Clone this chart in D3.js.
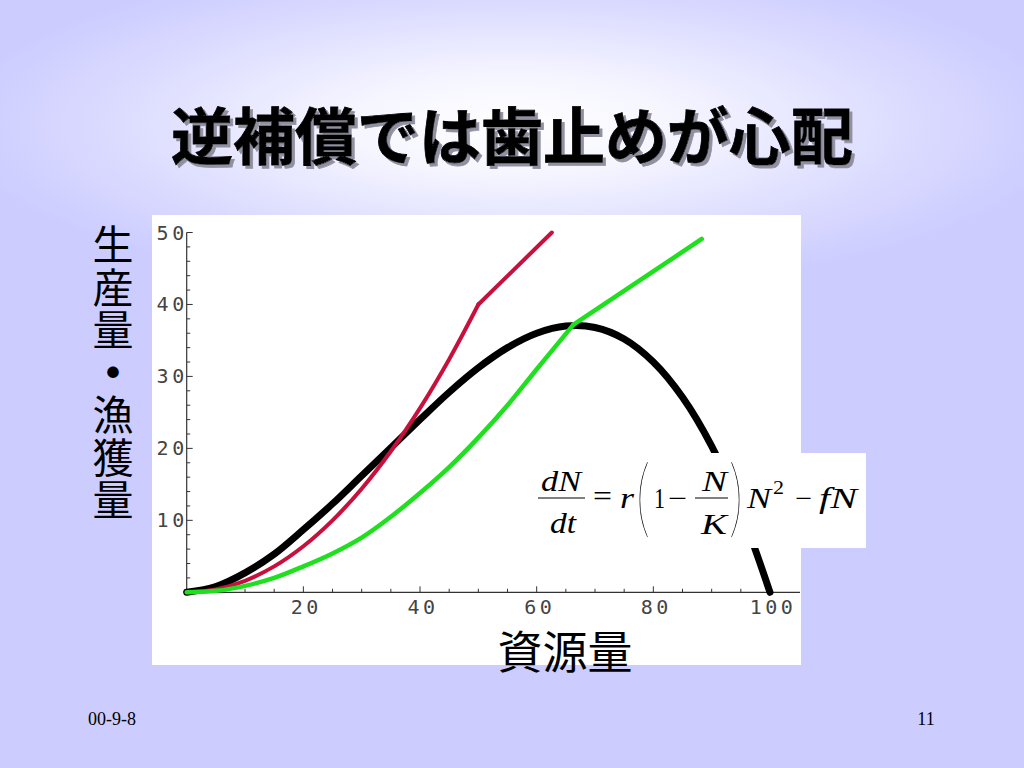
<!DOCTYPE html>
<html>
<head>
<meta charset="utf-8">
<script src="https://cdn.jsdelivr.net/npm/d3@7"></script>
<style>
  html, body { margin: 0; padding: 0; background: #ccccff; }
  svg { display: block; }
</style>
</head>
<body>
<svg id="chart" width="1024" height="768"></svg>
<script>
// ---------- data ----------
const titleText = "逆補償では歯止めが心配";
const yLabelText = "生産量・漁獲量";
const xLabelText = "資源量";
const footerDate = "00-9-8";
const footerPage = "11";

const xTicks = [20, 40, 60, 80, 100];
const xMinorTicks = [5, 10, 15, 25, 30, 35, 45, 50, 55, 65, 70, 75, 85, 90, 95];
const yTicks = [10, 20, 30, 40, 50];
const yMinorTicks = [2, 4, 6, 8, 12, 14, 16, 18, 22, 24, 26, 28, 32, 34, 36, 38, 42, 44, 46, 48];

// black: production curve
const blackN      = [0, 5, 10, 15, 20, 25, 30, 35, 40, 45, 50, 55, 60, 65, 70, 75, 80, 85, 90, 95, 100];
const blackValues = [0, 0.8, 2.7, 5.3, 8.7, 12.3, 16.2, 20.1, 24.0, 27.8, 31.2, 34.0, 36.0, 37.0, 36.8, 35.2, 32.0, 27.1, 20.3, 11.3, 0];

// red: catch curve (curved part then straight part after the knee)
const redN      = [0, 5, 10, 15, 20, 25, 30, 35, 40, 45, 50, 62.6];
const redValues = [0, 0.4, 1.6, 3.6, 6.4, 10.0, 14.4, 19.6, 25.6, 32.4, 40.0, 50.0];
const redKnee = 50;

// green: catch curve (curved part then straight part after the knee)
const greenN      = [0, 5, 10, 15, 20, 25, 30, 35, 40, 45, 50, 55, 60, 66.3, 88.3];
const greenValues = [0, 0.2, 0.9, 2.0, 3.6, 5.4, 7.6, 10.5, 13.8, 17.4, 21.5, 26.0, 31.0, 37.2, 49.1];
const greenKnee = 66.3;

// ---------- drawing ----------
const svg = d3.select("#chart");
const defs = svg.append("defs");

const bg = defs.append("radialGradient")
  .attr("id", "bgGrad")
  .attr("gradientUnits", "userSpaceOnUse")
  .attr("cx", 512).attr("cy", 125).attr("r", 560)
  .attr("gradientTransform", "translate(512,125) scale(1,0.3) translate(-512,-125)");
bg.append("stop").attr("offset", 0).attr("stop-color", "#ffffff");
bg.append("stop").attr("offset", 0.3).attr("stop-color", "#f5f5ff");
bg.append("stop").attr("offset", 0.7).attr("stop-color", "#dcdcff");
bg.append("stop").attr("offset", 1).attr("stop-color", "#ccccff");

const shadow = defs.append("filter").attr("id", "titleShadow")
  .attr("x", "-5%").attr("y", "-20%").attr("width", "110%").attr("height", "140%");
shadow.append("feDropShadow").attr("dx", 3).attr("dy", 3).attr("stdDeviation", 0.6)
  .attr("flood-color", "#9090a0").attr("flood-opacity", 1);

svg.append("rect").attr("width", 1024).attr("height", 768).attr("fill", "#ccccff");
svg.append("rect").attr("width", 1024).attr("height", 768).attr("fill", "url(#bgGrad)");

// title with shadow
svg.append("text").attr("x", 512).attr("y", 160)
  .attr("font-family", "'Noto Sans CJK JP', sans-serif")
  .attr("font-weight", 700).attr("font-size", 62).attr("text-anchor", "middle")
  .attr("fill", "#000").attr("stroke", "#000").attr("stroke-width", 0.8)
  .attr("filter", "url(#titleShadow)")
  .text(titleText);

// white plot panel
svg.append("rect").attr("x", 152).attr("y", 215).attr("width", 649).attr("height", 450).attr("fill", "#ffffff");

const x = d3.scaleLinear().domain([0, 100]).range([186.7, 770]);
const y = d3.scaleLinear().domain([0, 50]).range([592.3, 232.5]);

// axes
const axisColor = "#333";
const xAxis = svg.append("g");
xAxis.append("line").attr("x1", x(0)).attr("x2", 800).attr("y1", y(0)).attr("y2", y(0))
  .attr("stroke", axisColor).attr("stroke-width", 1.2);
xAxis.selectAll("line.maj").data(xTicks).join("line").attr("class", "maj")
  .attr("x1", d => x(d)).attr("x2", d => x(d)).attr("y1", y(0)).attr("y2", y(0) - 6)
  .attr("stroke", axisColor).attr("stroke-width", 1);
xAxis.selectAll("line.min").data(xMinorTicks).join("line").attr("class", "min")
  .attr("x1", d => x(d)).attr("x2", d => x(d)).attr("y1", y(0)).attr("y2", y(0) - 3.5)
  .attr("stroke", axisColor).attr("stroke-width", 1);
xAxis.selectAll("text").data(xTicks).join("text")
  .attr("x", d => x(d) + 3).attr("y", y(0) + 22)
  .attr("text-anchor", "middle")
  .attr("font-family", "'DejaVu Sans Mono', monospace")
  .attr("font-size", 20).attr("letter-spacing", 3.5)
  .attr("fill", "#444").text(d => d);

const yAxis = svg.append("g");
yAxis.append("line").attr("x1", x(0)).attr("x2", x(0)).attr("y1", y(0)).attr("y2", y(50))
  .attr("stroke", axisColor).attr("stroke-width", 1.2);
yAxis.selectAll("line.maj").data(yTicks).join("line").attr("class", "maj")
  .attr("x1", x(0)).attr("x2", x(0) + 6).attr("y1", d => y(d)).attr("y2", d => y(d))
  .attr("stroke", axisColor).attr("stroke-width", 1);
yAxis.selectAll("line.min").data(yMinorTicks).join("line").attr("class", "min")
  .attr("x1", x(0)).attr("x2", x(0) + 3.5).attr("y1", d => y(d)).attr("y2", d => y(d))
  .attr("stroke", axisColor).attr("stroke-width", 1);
yAxis.selectAll("text").data(yTicks).join("text")
  .attr("x", x(0) + 1).attr("y", d => y(d) + 7)
  .attr("text-anchor", "end")
  .attr("font-family", "'DejaVu Sans Mono', monospace")
  .attr("font-size", 20).attr("letter-spacing", 3.5)
  .attr("fill", "#444").text(d => d);

// curves
function pts(ns, vs) { return ns.map((n, i) => [n, vs[i]]); }
const smooth = d3.line().x(d => x(d[0])).y(d => y(d[1])).curve(d3.curveCatmullRom.alpha(0.5));
const straight = d3.line().x(d => x(d[0])).y(d => y(d[1]));

const blackPts = pts(blackN, blackValues);
svg.append("path").attr("d", smooth(blackPts))
  .attr("fill", "none").attr("stroke", "#000").attr("stroke-width", 7)
  .attr("stroke-linecap", "round");

const redPts = pts(redN, redValues);
svg.append("path").attr("d", smooth(redPts.filter(d => d[0] <= redKnee)))
  .attr("fill", "none").attr("stroke", "#c8103c").attr("stroke-width", 4)
  .attr("stroke-linecap", "round");
svg.append("path").attr("d", straight(redPts.filter(d => d[0] >= redKnee)))
  .attr("fill", "none").attr("stroke", "#c8103c").attr("stroke-width", 4)
  .attr("stroke-linecap", "round");

const greenPts = pts(greenN, greenValues);
svg.append("path").attr("d", smooth(greenPts.filter(d => d[0] <= greenKnee)))
  .attr("fill", "none").attr("stroke", "#1ee01e").attr("stroke-width", 4.5)
  .attr("stroke-linecap", "round");
svg.append("path").attr("d", straight(greenPts.filter(d => d[0] >= greenKnee)))
  .attr("fill", "none").attr("stroke", "#1ee01e").attr("stroke-width", 4.5)
  .attr("stroke-linecap", "round");

// axis labels (vertical y label as one text)
const ylab = svg.append("text")
  .attr("x", 113).attr("y", 224)
  .attr("font-family", "'Noto Sans CJK JP', sans-serif")
  .attr("font-size", 41).attr("fill", "#000")
  .attr("letter-spacing", 1.5)
  .style("writing-mode", "vertical-rl")
  .style("text-orientation", "upright");
const yParts = yLabelText.split("・");
ylab.append("tspan").text(yParts[0]);
ylab.append("tspan").attr("font-weight", 900).text("・");
ylab.append("tspan").text(yParts[1]);

svg.append("text").attr("x", 565).attr("y", 669)
  .attr("font-family", "'Noto Sans CJK JP', sans-serif")
  .attr("font-size", 45).attr("text-anchor", "middle").attr("fill", "#000")
  .text(xLabelText);

// formula box
svg.append("rect").attr("x", 530).attr("y", 453).attr("width", 336).attr("height", 95).attr("fill", "#ffffff");
const f = svg.append("g").attr("font-family", "'Liberation Serif', 'Times New Roman', serif")
  .attr("font-size", 29).attr("fill", "#000");
function ft(txt, x0, base, w, opts = {}) {
  const t = f.append("text").attr("x", x0).attr("y", base)
    .attr("textLength", w).attr("lengthAdjust", "spacingAndGlyphs").text(txt);
  if (opts.italic) t.attr("font-style", "italic");
  if (opts.size) t.attr("font-size", opts.size);
  if (opts.family) t.attr("font-family", opts.family);
  if (opts.weight) t.attr("font-weight", opts.weight);
  return t;
}
ft("dN", 541, 491, 40, {italic: true});
f.append("line").attr("x1", 538).attr("x2", 585).attr("y1", 498).attr("y2", 498).attr("stroke", "#000").attr("stroke-width", 1.2);
ft("dt", 550, 533, 26, {italic: true});
ft("=", 593, 506, 19);
ft("r", 620, 508, 14, {italic: true});
ft("(", 636, 527, 14, {size: 86, family: "Lato", weight: 200});
ft("1", 654, 508, 11);
ft("−", 668, 508, 19);
ft("N", 702, 491, 25, {italic: true});
f.append("line").attr("x1", 695).attr("x2", 728).attr("y1", 498).attr("y2", 498).attr("stroke", "#000").attr("stroke-width", 1.2);
ft("K", 701, 534, 26, {italic: true});
ft(")", 729, 527, 14, {size: 86, family: "Lato", weight: 200});
ft("N", 747, 508, 24, {italic: true});
ft("2", 773, 494, 11, {size: 19});
ft("−", 795, 508, 17);
ft("fN", 819, 508, 38, {italic: true});

// footer
const fg = svg.append("g").attr("font-family", "'Liberation Serif', 'Times New Roman', serif")
  .attr("font-size", 18).attr("fill", "#000");
fg.append("text").attr("x", 88).attr("y", 725).text(footerDate);
fg.append("text").attr("x", 926).attr("y", 725).attr("text-anchor", "middle").text(footerPage);
</script>
</body>
</html>
